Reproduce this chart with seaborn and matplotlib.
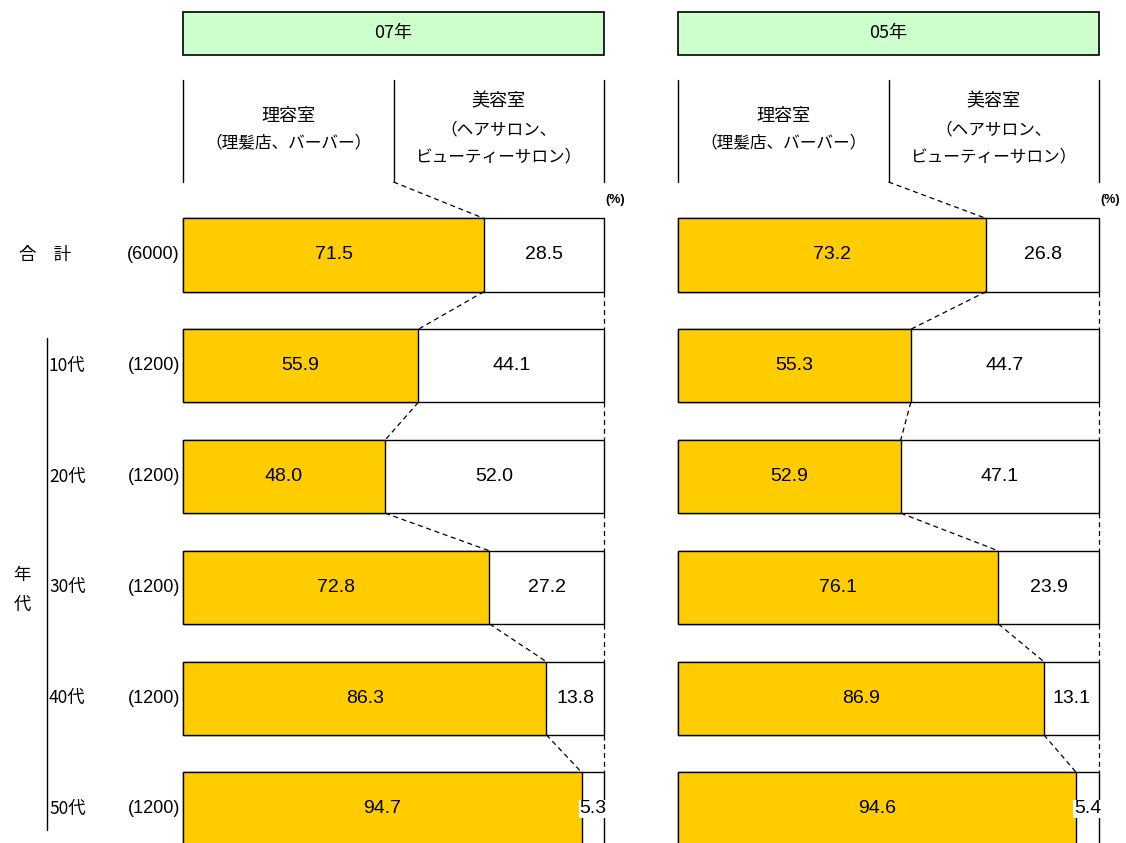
import matplotlib.pyplot as plt
from matplotlib.lines import Line2D
from matplotlib.patches import Rectangle
from matplotlib.transforms import blended_transform_factory
import seaborn as sns

sns.set_style("white")
plt.rcParams['font.family'] = ['Noto Sans CJK JP', 'DejaVu Sans']
plt.rcParams['text.color'] = 'black'
NUM_FONT = ['Liberation Sans Narrow', 'Liberation Sans', 'DejaVu Sans']

# data
groups = ['合　計', '10代', '20代', '30代', '40代', '50代']
counts = ['(6000)', '(1200)', '(1200)', '(1200)', '(1200)', '(1200)']
years = ['07年', '05年']
barber_07 = [71.5, 55.9, 48.0, 72.8, 86.3, 94.7]
salon_07 = [28.5, 44.1, 52.0, 27.2, 13.8, 5.3]
barber_05 = [73.2, 55.3, 52.9, 76.1, 86.9, 94.6]
salon_05 = [26.8, 44.7, 47.1, 23.9, 13.1, 5.4]

ORANGE = '#FFCC00'
GREEN = '#CCFFCC'

W, H = 1126, 843
ROW = 110.8      # pixels between bar centres
FIRST = 255      # pixel y of first bar centre
BAR_W = 0.66

fig = plt.figure(figsize=(W / 100, H / 100), dpi=100)


def dy(p):
    # pixel row -> data y on the categorical axis
    return (p - FIRST) / ROW


def fy(p):
    return 1 - p / H


dash = dict(color='black', lw=0.9, ls=(0, (4, 3)))
h = BAR_W / 2

panels = [(183, years[0], barber_07, salon_07), (678, years[1], barber_05, salon_05)]
for k, (x0, year, barber, salon) in enumerate(panels):
    ax = fig.add_axes([x0 / W, 0, 421 / W, 1])
    total = [b + s for b, s in zip(barber, salon)]
    sns.barplot(x=total, y=groups, orient='h', color='white', edgecolor='black',
                linewidth=1, width=BAR_W, saturation=1, ax=ax)
    sns.barplot(x=barber, y=groups, orient='h', color=ORANGE, edgecolor='black',
                linewidth=1, width=BAR_W, saturation=1, ax=ax)
    ax.set_xlim(0, 100)
    ax.set_ylim(dy(H), dy(0))
    ax.axis('off')
    for p in ax.patches:
        p.set_clip_on(False)

    for i, (b, s) in enumerate(zip(barber, salon)):
        ax.text(b / 2, i, f'{b:.1f}', ha='center', va='center', fontsize=14,
                family=NUM_FONT)
        box = dict(fc='white', ec='none', pad=0.5) if s < 8 else None
        ax.text(b + s / 2, i, f'{s:.1f}', ha='center', va='center', fontsize=14,
                family=NUM_FONT, bbox=box)

    # connectors between bars
    for i in range(len(groups) - 1):
        ax.plot([barber[i], barber[i + 1]], [i + h, i + 1 - h], clip_on=False, **dash)
        ax.plot([100, 100], [i + h, i + 1 - h], clip_on=False, **dash)

    # header
    ax.add_patch(Rectangle((0, dy(55)), 100, dy(12) - dy(55), fc=GREEN, ec='black',
                           lw=1.2, clip_on=False))
    ax.text(50, dy(33), year, ha='center', va='center', fontsize=13)
    for x in (0, 50, 100):
        ax.plot([x, x], [dy(80), dy(182)], color='black', lw=1, clip_on=False)
    ax.plot([50, barber[0]], [dy(182), -h], clip_on=False, **dash)
    ax.text(25, dy(116), '理容室', ha='center', va='center', fontsize=13)
    ax.text(25, dy(143), '（理髪店、バーバー）', ha='center', va='center', fontsize=12)
    ax.text(75, dy(101), '美容室', ha='center', va='center', fontsize=13)
    ax.text(75, dy(130), '（ヘアサロン、', ha='center', va='center', fontsize=12)
    ax.text(75, dy(157), 'ビューティーサロン）', ha='center', va='center', fontsize=12)
    ax.text(102.6, dy(200), '(%)', ha='center', va='center', fontsize=9,
            fontweight='bold', family=NUM_FONT)

    if k == 0:
        trans = blended_transform_factory(fig.transFigure, ax.transData)
        for i, (g, c) in enumerate(zip(groups, counts)):
            if i == 0:
                ax.text(45 / W, i, g, ha='center', va='center', fontsize=12.5,
                        transform=trans)
            else:
                ax.text(49 / W, i, g, ha='left', va='center', fontsize=12.5,
                        transform=trans)
            ax.text(180 / W, i, c, ha='right', va='center', fontsize=13,
                    family=NUM_FONT, transform=trans)

fig.add_artist(Line2D([47 / W, 47 / W], [fy(338), fy(830)], color='black', lw=1))
fig.text(22 / W, fy(575), '年', ha='center', va='center', fontsize=12.5)
fig.text(22 / W, fy(605), '代', ha='center', va='center', fontsize=12.5)

fig.savefig('out.png', dpi=100)
